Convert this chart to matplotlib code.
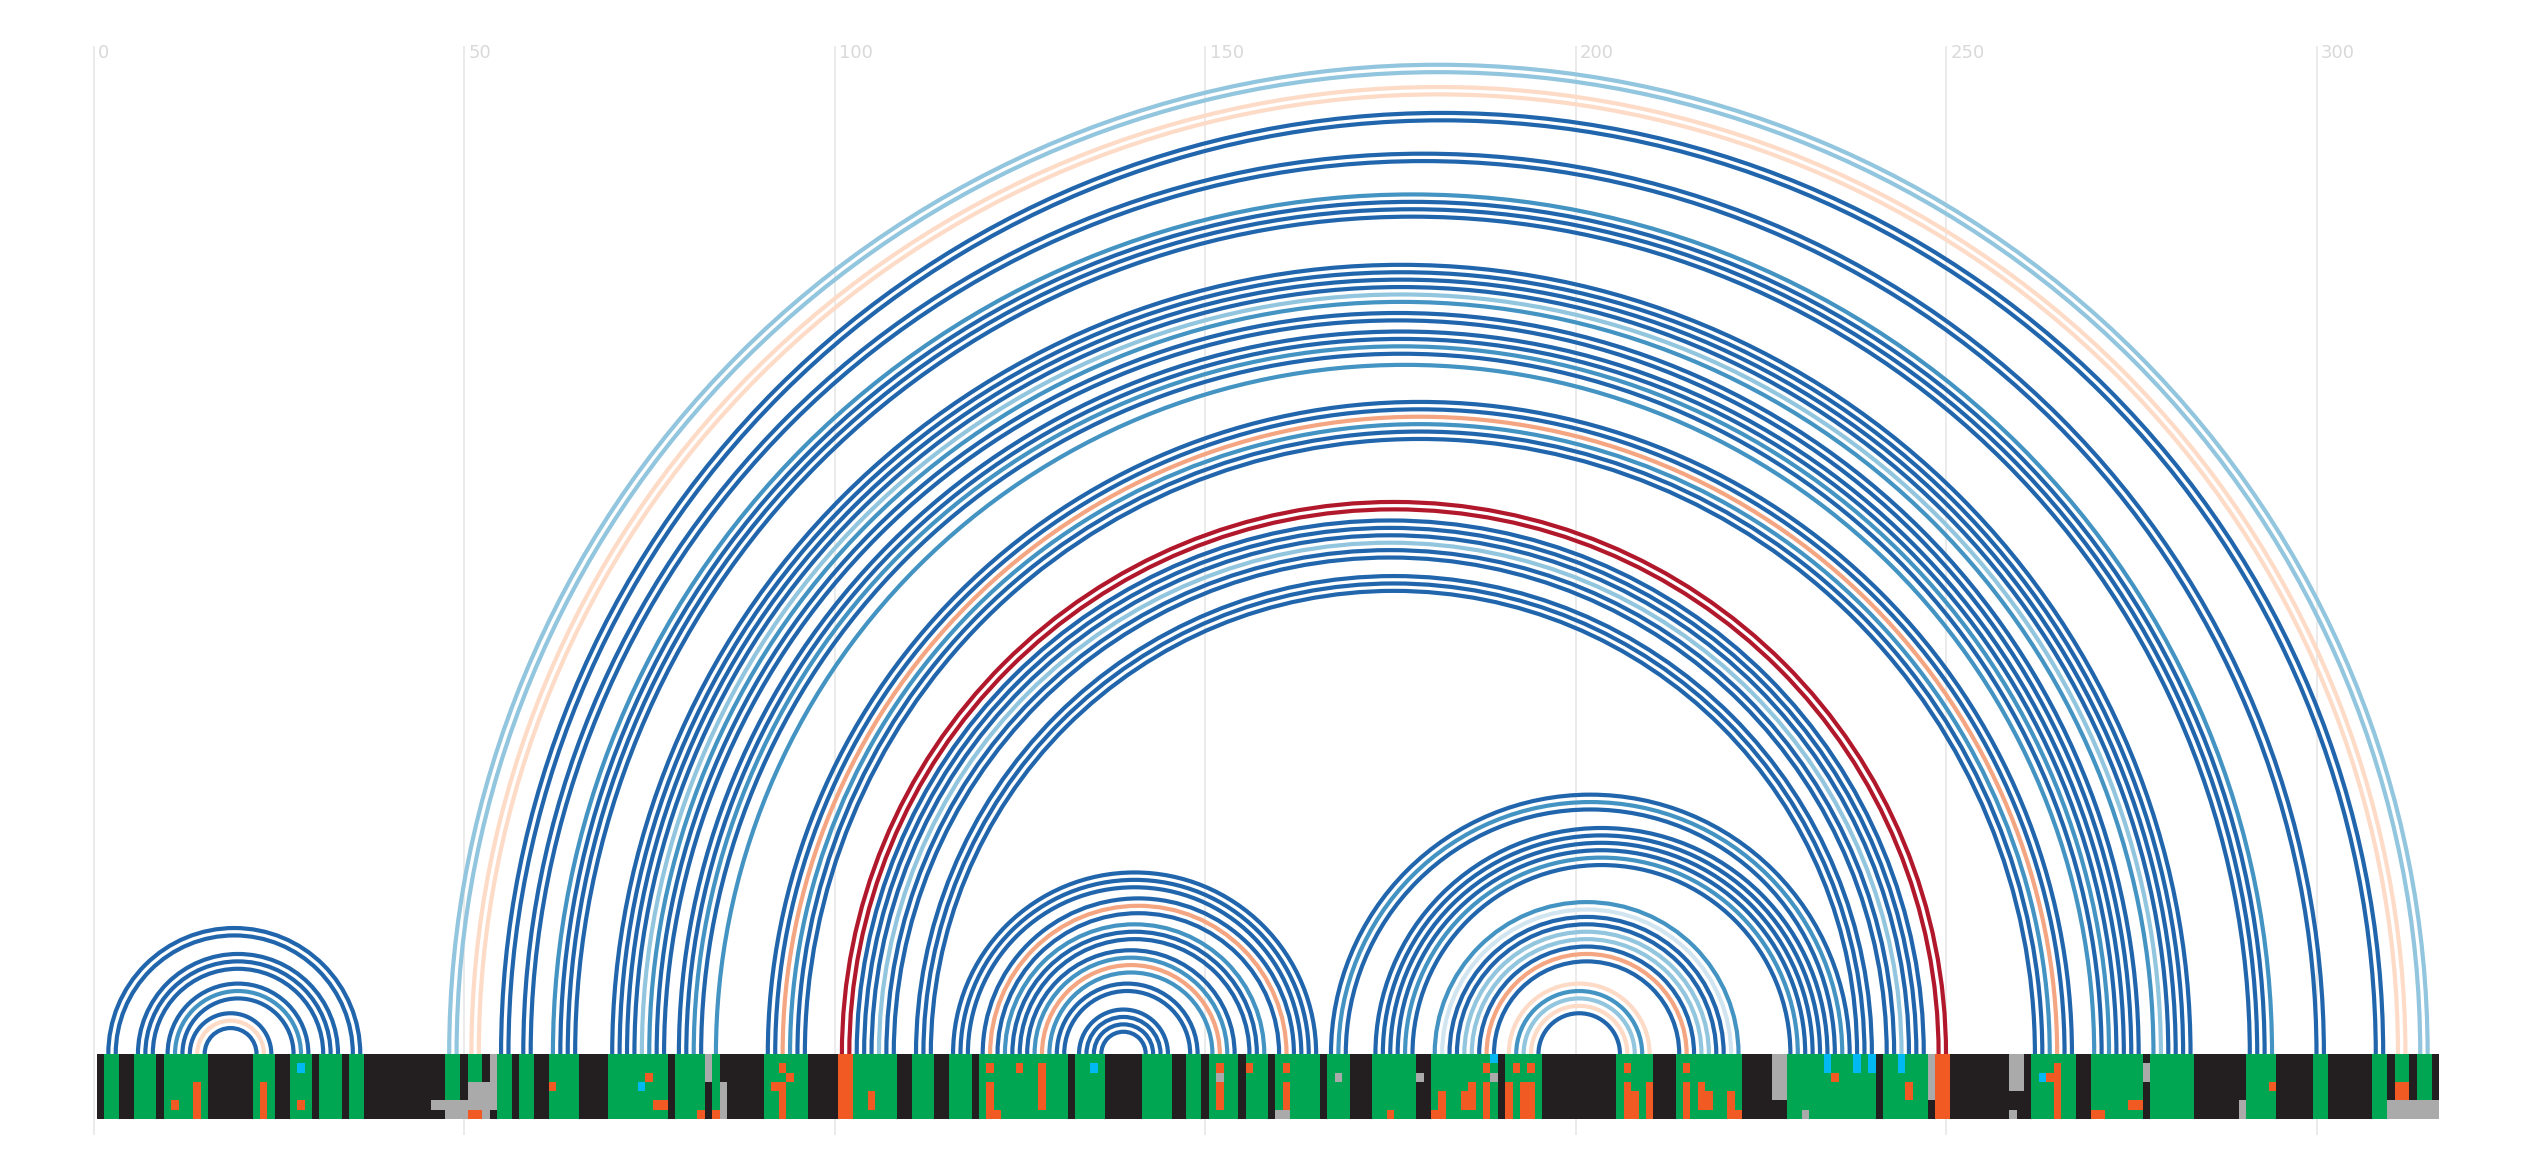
import numpy as np
import matplotlib
matplotlib.use("Agg")
import matplotlib.pyplot as plt
from matplotlib.patches import Arc
from matplotlib.colors import ListedColormap

# ---------------- data ----------------
seq_len = 316
n_rows = 7
tick_values = [0, 50, 100, 150, 200, 250, 300]

# base pairs (left position, right position, colour class)
pairs_left = [2, 3, 6, 7, 8, 10, 11, 12, 13, 14, 15,
              48, 49, 51, 52, 55, 56, 58, 59, 62, 63, 64, 65,
              70, 71, 72, 73, 74, 75, 76, 77, 79, 80, 81, 82, 84,
              91, 92, 93, 94, 95, 96, 101, 102, 103, 104, 105, 106, 107, 108,
              111, 112, 113,
              116, 117, 118, 120, 121, 122, 123, 124, 125, 126, 127, 128, 129, 130, 131,
              133, 134, 135, 136,
              167, 168, 169, 173, 174, 175, 176, 177, 178,
              181, 182, 183, 184, 185, 186, 187, 188, 189, 191, 192, 193, 194, 195]
pairs_right = [36, 35, 33, 32, 31, 29, 28, 27, 24, 23, 22,
               315, 314, 312, 311, 309, 308, 301, 300, 294, 293, 292, 291,
               283, 282, 281, 280, 279, 278, 276, 275, 274, 273, 272, 271, 270,
               267, 266, 265, 264, 263, 262, 250, 249, 247, 246, 245, 244, 243, 242,
               240, 239, 238,
               165, 164, 163, 162, 161, 160, 158, 157, 156, 154, 153, 152, 151, 149, 148,
               145, 144, 143, 142,
               237, 236, 235, 234, 233, 232, 231, 230, 229,
               222, 221, 220, 219, 218, 217, 216, 215, 214, 210, 209, 208, 207, 206]
pairs_class = ["db", "db", "db", "db", "db", "db", "mb", "db", "db", "lo", "db",
               "lb", "lb", "lo", "lo", "db", "db", "db", "db", "mb", "db", "db", "db",
               "db", "db", "db", "db", "lb", "mb", "db", "db", "db", "db", "mb", "db", "mb",
               "db", "db", "or", "mb", "db", "db", "rd", "rd", "db", "db", "db", "lb", "db", "db",
               "db", "db", "db",
               "db", "db", "db", "db", "or", "db", "mb", "db", "db", "db", "mb", "or", "mb", "db", "db",
               "db", "db", "db", "db",
               "db", "mb", "db", "db", "db", "db", "db", "mb", "db",
               "mb", "vlb", "db", "db", "lb", "lb", "db", "or", "db", "lo", "mb", "lb", "lo", "db"]

class_colors = {"db": "#2166ac", "mb": "#4393c3", "lb": "#92c5de",
                "vlb": "#d1e5f0", "lo": "#fddbc7", "or": "#f4a582", "rd": "#b2182b"}

# alignment strip: runs of paired (green) columns
green_runs = [(2, 3), (6, 8), (10, 15), (22, 24), (27, 29), (31, 33), (35, 36),
              (48, 49), (51, 52), (55, 56), (58, 59), (62, 65), (70, 77), (79, 82), (84, 84),
              (91, 96), (103, 108), (111, 113), (116, 118), (120, 131), (133, 136),
              (142, 145), (148, 149), (151, 154), (156, 158), (160, 165), (167, 169),
              (173, 178), (181, 189), (191, 195), (206, 210), (214, 222), (229, 240),
              (242, 247), (262, 267), (270, 276), (278, 283), (291, 294),
              (300, 301), (308, 309), (311, 312), (314, 315)]
# cell overrides: (column, first row, last row, code)  codes: K black, G green, O orange, A gray, C cyan
cell_overrides = [(11, 5, 5, "O"), (14, 3, 6, "O"), (23, 3, 6, "O"), (28, 1, 1, "C"), (28, 5, 5, "O"),
                  (46, 5, 5, "A"), (47, 5, 5, "A"), (48, 5, 6, "A"), (49, 5, 6, "A"), (50, 5, 6, "A"),
                  (51, 3, 5, "A"), (52, 3, 5, "A"), (51, 6, 6, "O"), (52, 6, 6, "O"),
                  (53, 3, 5, "A"), (53, 6, 6, "A"), (54, 0, 5, "A"),
                  (62, 3, 3, "O"), (74, 3, 3, "C"), (75, 2, 2, "O"), (76, 5, 5, "O"), (77, 5, 5, "O"),
                  (82, 6, 6, "O"), (83, 0, 2, "A"), (84, 6, 6, "O"), (85, 3, 6, "A"),
                  (93, 1, 1, "O"), (94, 2, 2, "O"), (92, 3, 3, "O"), (93, 3, 6, "O"),
                  (101, 0, 6, "O"), (102, 0, 6, "O"), (105, 4, 5, "O"),
                  (121, 1, 1, "O"), (125, 1, 1, "O"), (128, 1, 5, "O"), (121, 3, 6, "O"), (122, 6, 6, "O"),
                  (135, 1, 1, "C"), (152, 1, 1, "O"), (152, 2, 2, "A"), (152, 3, 5, "O"), (156, 1, 1, "O"),
                  (161, 1, 1, "O"), (161, 3, 5, "O"), (160, 6, 6, "A"), (161, 6, 6, "A"),
                  (168, 2, 2, "A"), (175, 6, 6, "O"), (179, 2, 2, "A"),
                  (181, 6, 6, "O"), (182, 4, 6, "O"), (185, 4, 5, "O"), (186, 3, 5, "O"),
                  (188, 1, 1, "O"), (188, 3, 6, "O"), (189, 2, 2, "A"), (189, 0, 0, "C"),
                  (191, 3, 6, "O"), (192, 1, 1, "O"), (194, 1, 1, "O"), (193, 3, 6, "O"), (194, 3, 6, "O"),
                  (207, 3, 6, "O"), (207, 1, 1, "O"), (208, 4, 6, "O"), (210, 3, 6, "O"),
                  (215, 1, 1, "O"), (215, 3, 6, "O"), (217, 3, 5, "O"), (218, 4, 5, "O"),
                  (221, 4, 6, "O"), (222, 6, 6, "O"),
                  (227, 0, 4, "A"), (228, 0, 4, "A"), (231, 6, 6, "A"),
                  (234, 0, 1, "C"), (235, 2, 2, "O"), (238, 0, 1, "C"), (240, 0, 1, "C"), (244, 0, 1, "C"),
                  (245, 3, 4, "O"), (248, 0, 4, "A"),
                  (249, 0, 6, "O"), (250, 0, 6, "O"),
                  (259, 0, 3, "A"), (259, 6, 6, "A"), (260, 0, 3, "A"),
                  (263, 2, 2, "C"), (264, 2, 2, "O"), (265, 1, 6, "O"),
                  (270, 6, 6, "O"), (271, 6, 6, "O"), (275, 5, 5, "O"), (276, 5, 5, "O"), (277, 1, 2, "A"),
                  (290, 5, 6, "A"), (294, 3, 3, "O"),
                  (310, 5, 6, "A"), (311, 3, 4, "O"), (312, 3, 4, "O"), (311, 5, 6, "A"), (312, 5, 6, "A"),
                  (313, 5, 6, "A"), (314, 5, 6, "A"), (315, 5, 6, "A"), (316, 5, 6, "A")]

cell_codes = "KGOAC"
cell_palette = ["#231f20", "#00a651", "#f15a22", "#aaaaaa", "#00b9f2"]

# ---------------- figure ----------------
W, H, DPI = 2528, 1170, 100
px_unit = 7.41          # pixels per sequence position
x0_px = 93.5            # pixel of position 0
base_px = 1054          # pixel row of strip top
strip_h = 65 / px_unit

fig = plt.figure(figsize=(W / DPI, H / DPI), dpi=DPI)
ax = fig.add_axes([0, 0, 1, 1])
ax.set_xlim(-x0_px / px_unit, (W - x0_px) / px_unit)
ax.set_ylim(-(H - base_px) / px_unit, base_px / px_unit)
ax.axis("off")

# grid lines + labels
grid_top = (base_px - 46) / px_unit
grid_bot = -(1135 - base_px) / px_unit
ax.vlines(tick_values, grid_bot, grid_top, colors="#e6e6e6", linewidth=1.1, zorder=0)
for t in tick_values:
    ax.text(t + 4.5 / px_unit, grid_top + 0.3, str(t), ha="left", va="top",
            fontsize=13, color="#d9d9d9", family="DejaVu Sans", zorder=1)

# arcs
for i, j, c in zip(pairs_left, pairs_right, pairs_class):
    d = j - i
    arc = Arc(((i + j) / 2, 0), d, d, theta1=0, theta2=180,
              color=class_colors[c], linewidth=3.0, zorder=2)
    ax.add_patch(arc)

# alignment strip
mat = np.zeros((n_rows, seq_len), dtype=int)
for a, b in green_runs:
    mat[:, a - 1:b] = 1
for col, r0, r1, code in cell_overrides:
    mat[r0:r1 + 1, col - 1] = cell_codes.index(code)
cmap = ListedColormap(cell_palette)
ax.imshow(mat, cmap=cmap, vmin=-0.5, vmax=4.5, interpolation="nearest",
          extent=(0.5, seq_len + 0.5, -strip_h, 0), aspect="auto", zorder=3)

fig.savefig("out.png", dpi=DPI)
